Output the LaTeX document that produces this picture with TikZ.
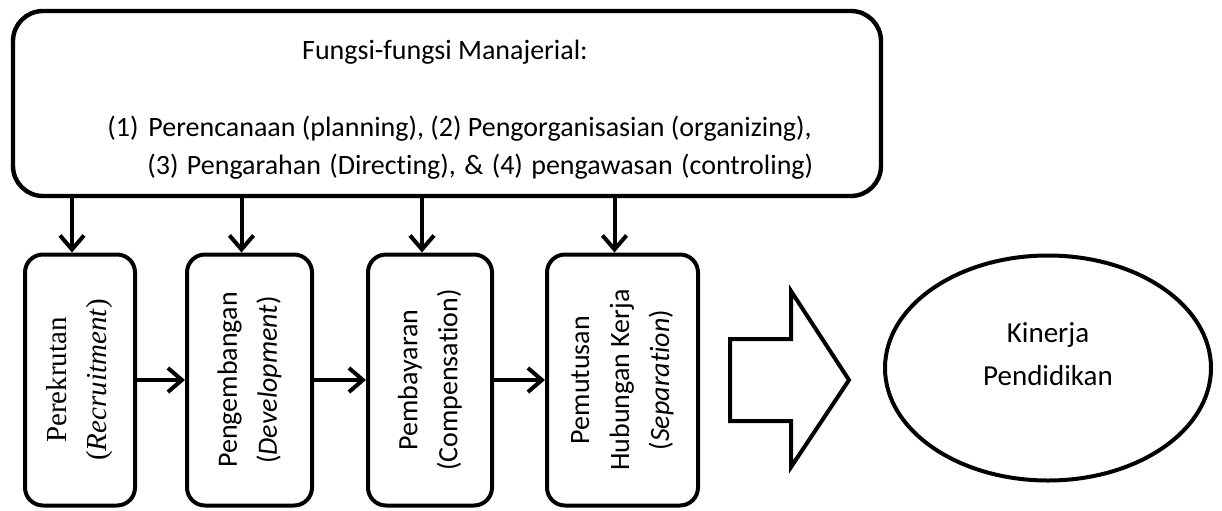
\documentclass[tikz,border=0pt]{standalone}
\usepackage{fontspec}
\setmainfont{Carlito}[Ligatures=NoCommon]
\newfontfamily\camfont{Liberation Serif}
\usetikzlibrary{arrows.meta,shapes.geometric}

\begin{document}
\begin{tikzpicture}[x=0.5pt, y=-0.5pt, >={Straight Barb[length=7pt,width=12pt]},
  every node/.style={font=\fontsize{14}{19}\selectfont},
  mainbox/.style={draw, line width=2.2pt, rounded corners=15pt, minimum width=434pt, minimum height=92.5pt},
  listline/.style={anchor=base west, inner sep=0pt},
  stagebox/.style={draw, line width=2pt, rounded corners=9pt, rotate=90, align=center,
    minimum width=125.5pt, inner sep=0pt, font=\fontsize{14}{20}\selectfont},
  flow/.style={->, line width=2pt}]
  \useasboundingbox (0,0) rectangle (1222,510);

  % management functions
  \node[mainbox] (fungsi) at (447,103.5) {};
  \node[anchor=base] (judul) at (445,59) {Fungsi-fungsi Manajerial:};
  \node[listline] (nomor) at (107,136) {(1)};
  \node[listline] (baris1) at (148,136) {Perencanaan (planning), (2) Pengorganisasian (organizing),};
  \node[listline] (baris2) at (147,174)
    {\spaceskip=4.2pt\relax (3) Pengarahan (Directing), \& (4) pengawasan (controling)};

  % stages
  \node[stagebox, minimum height=55pt, font=\camfont\fontsize{14.5}{20}\selectfont] (rekrut) at (80,380)
    {Perekrutan\\(\textit{Recruitment})};
  \node[stagebox, minimum height=62.5pt] (kembang) at (249.5,380)
    {Pengembangan\\(\textit{Development})};
  \node[stagebox, minimum height=62pt] (bayar) at (430,380)
    {Pembayaran\\(Compensation)};
  \node[stagebox, minimum height=75.5pt] (putus) at (622.5,380)
    {Pemutusan\\Hubungan Kerja\\(\textit{Separation})};

  \foreach \s in {rekrut,kembang,bayar,putus}
    \draw[flow] ([xshift=-4pt]\s.east |- fungsi.south) -- ([xshift=-4pt]\s.east);

  \draw[flow] (rekrut) -- (kembang);
  \draw[flow] (kembang) -- (bayar);
  \draw[flow] (bayar) -- (putus);

  % result
  \draw[line width=2pt] (730,339) -- (791,339) -- (791,291) -- (849,380) -- (791,467) -- (791,421) -- (730,421) -- cycle;
  \node[draw, ellipse, line width=2pt, minimum width=163pt, minimum height=112.5pt] (kinerja) at (1048,368) {};
  \node[align=center, font=\fontsize{14.5}{21.5}\selectfont] (kinerjateks) at (1048,354) {Kinerja\\Pendidikan};
\end{tikzpicture}
\end{document}
